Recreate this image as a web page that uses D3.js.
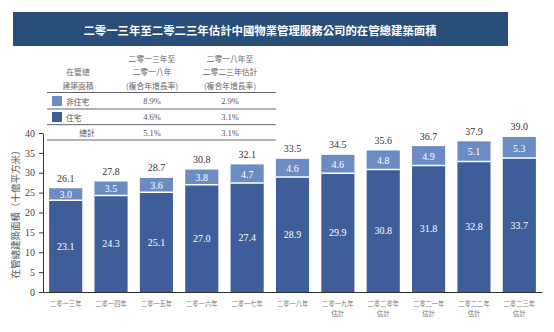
<!DOCTYPE html>
<html>
<head>
<meta charset="utf-8">
<script src="https://cdn.jsdelivr.net/npm/d3@7/dist/d3.min.js"></script>
<style>
  html, body { margin: 0; padding: 0; background: #fff; }
  svg { display: block; }
  .num { font-family: "Liberation Serif", "Times New Roman", "DejaVu Serif", serif; }
  .cjk { font-family: "Noto Sans CJK TC", "Noto Sans CJK SC", sans-serif; }
</style>
</head>
<body>
<svg id="chart" width="554" height="332"></svg>
<script>
// Gross floor area under management, China property management companies
const years = ["二零一三年", "二零一四年", "二零一五年", "二零一六年", "二零一七年", "二零一八年",
               "二零一九年估計", "二零二零年估計", "二零二一年估計", "二零二二年估計", "二零二三年估計"];
const residential = [23.1, 24.3, 25.1, 27.0, 27.4, 28.9, 29.9, 30.8, 31.8, 32.8, 33.7];
const nonResidential = [3.0, 3.5, 3.6, 3.8, 4.7, 4.6, 4.6, 4.8, 4.9, 5.1, 5.3];
const totals = [26.1, 27.8, 28.7, 30.8, 32.1, 33.5, 34.5, 35.6, 36.7, 37.9, 39.0];
const yTicks = [0, 5, 10, 15, 20, 25, 30, 35, 40];

// CAGR table
const cagrHeaders = [["在管總", "建築面積"], ["二零一三年至", "二零一八年", "(複合年增長率)"], ["二零一八年至", "二零二三年估計", "(複合年增長率)"]];
const cagrRows = ["非住宅", "住宅", "總計"];
const cagr2013to2018 = ["8.9%", "4.6%", "5.1%"];
const cagr2018to2023 = ["2.9%", "3.1%", "3.1%"];

const title = "二零一三年至二零二三年估計中國物業管理服務公司的在管總建築面積";
const yAxisTitle = "在管總建築面積（十億平方米）";

const colResidential = "#3d5e98";
const colNonResidential = "#6b8cc3";

const svg = d3.select("#chart");

// Title banner
svg.append("rect").attr("x", 13).attr("y", 12).attr("width", 495).attr("height", 34).attr("fill", "#2a4e7a");
svg.append("text").attr("class", "cjk").attr("x", 260).attr("y", 29.5).attr("text-anchor", "middle").attr("dominant-baseline", "central")
  .attr("fill", "#fff").attr("font-weight", "bold").attr("font-size", 11.4)
  .text(title);

// Table
const tbl = svg.append("g");
const colX = [78, 152, 230];
const headerY = [58, 71.5, 85];
cagrHeaders.forEach((lines, ci) => {
  const offset = lines.length === 2 ? 1 : 0;
  lines.forEach((t, li) => {
    tbl.append("text").attr("class", "cjk").attr("x", colX[ci]).attr("y", headerY[li + offset])
      .attr("text-anchor", "middle").attr("dominant-baseline", "central")
      .attr("font-size", 7.8).attr("fill", "#666").text(t);
  });
});
const lineY = [92.5, 109, 124.7, 140];
lineY.forEach(y => {
  tbl.append("line").attr("x1", 47).attr("x2", 276).attr("y1", y).attr("y2", y)
    .attr("stroke", "#666").attr("stroke-width", 1);
});
const rowY = [101, 117, 132.5];
const swatchColors = [colNonResidential, colResidential, null];
cagrRows.forEach((r, i) => {
  if (swatchColors[i]) {
    tbl.append("rect").attr("x", 52).attr("y", rowY[i] - 5).attr("width", 10).attr("height", 10)
      .attr("fill", swatchColors[i]);
    tbl.append("text").attr("class", "cjk").attr("x", 66).attr("y", rowY[i]).attr("dominant-baseline", "central")
      .attr("font-size", 7.8).attr("fill", "#555").text(r);
  } else {
    tbl.append("text").attr("class", "cjk").attr("x", 87).attr("y", rowY[i]).attr("text-anchor", "middle").attr("dominant-baseline", "central")
      .attr("font-size", 7.8).attr("fill", "#555").text(r);
  }
  tbl.append("text").attr("class", "num").attr("x", colX[1]).attr("y", rowY[i]).attr("text-anchor", "middle").attr("dominant-baseline", "central")
    .attr("font-size", 8.5).attr("fill", "#555").text(cagr2013to2018[i]);
  tbl.append("text").attr("class", "num").attr("x", colX[2]).attr("y", rowY[i]).attr("text-anchor", "middle").attr("dominant-baseline", "central")
    .attr("font-size", 8.5).attr("fill", "#555").text(cagr2018to2023[i]);
});

// Scales
const x = d3.scaleBand().domain(years).range([43, 542]).paddingInner(0.27).paddingOuter(0.135);
const y = d3.scaleLinear().domain([0, 40]).range([292, 133]);

// Y axis
const yAxis = svg.append("g").attr("transform", "translate(43,0)")
  .call(d3.axisLeft(y).tickValues(yTicks).tickSize(4).tickSizeOuter(0).tickPadding(4));
yAxis.attr("font-family", null);
yAxis.select(".domain").attr("stroke", "#333");
yAxis.selectAll(".tick line").attr("stroke", "#333");
yAxis.selectAll(".tick text").attr("class", "num").attr("font-size", 10).attr("fill", "#444");

// X axis baseline
const xAxis = svg.append("g").attr("transform", "translate(0,292)")
  .call(d3.axisBottom(x).tickSize(0).tickSizeOuter(0).tickFormat(""));
xAxis.select(".domain").attr("stroke", "#333");

// Category labels (two lines for estimates)
years.forEach(yr => {
  const cx = x(yr) + x.bandwidth() / 2;
  const main = yr.replace("估計", "");
  svg.append("text").attr("class", "cjk").attr("x", cx).attr("y", 303).attr("text-anchor", "middle").attr("dominant-baseline", "central")
    .attr("font-size", 6.3).attr("fill", "#777").text(main);
  if (yr.endsWith("估計")) {
    svg.append("text").attr("class", "cjk").attr("x", cx).attr("y", 313).attr("text-anchor", "middle").attr("dominant-baseline", "central")
      .attr("font-size", 6.3).attr("fill", "#777").text("估計");
  }
});

// Y axis title
svg.append("text").attr("class", "cjk").attr("transform", "translate(15,212) rotate(-90)")
  .attr("text-anchor", "middle").attr("dominant-baseline", "central")
  .attr("font-size", 9.5).attr("fill", "#555").text(yAxisTitle);

// Stacked bars
const bars = svg.append("g");
years.forEach((yr, i) => {
  const bx = x(yr), bw = x.bandwidth();
  const r = residential[i], n = nonResidential[i];
  bars.append("rect").attr("x", bx).attr("y", y(r)).attr("width", bw).attr("height", y(0) - y(r))
    .attr("fill", colResidential);
  bars.append("rect").attr("x", bx).attr("y", y(r + n)).attr("width", bw).attr("height", y(r) - y(r + n))
    .attr("fill", colNonResidential);
  // separator between segments
  bars.append("line").attr("x1", bx).attr("x2", bx + bw).attr("y1", y(r)).attr("y2", y(r))
    .attr("stroke", "#fff").attr("stroke-width", 1.5);
  const cx = bx + bw / 2;
  bars.append("text").attr("class", "num").attr("x", cx).attr("y", (y(0) + y(r)) / 2).attr("text-anchor", "middle").attr("dominant-baseline", "central")
    .attr("font-size", 10).attr("fill", "#fff").text(r.toFixed(1));
  bars.append("text").attr("class", "num").attr("x", cx).attr("y", (y(r) + y(r + n)) / 2 + 0.5).attr("text-anchor", "middle").attr("dominant-baseline", "central")
    .attr("font-size", 10).attr("fill", "#fff").text(n.toFixed(1));
  bars.append("text").attr("class", "num").attr("x", cx).attr("y", y(totals[i]) - 10).attr("text-anchor", "middle").attr("dominant-baseline", "central")
    .attr("font-size", 10).attr("fill", "#333").text(totals[i].toFixed(1));
});
</script>
</body>
</html>
